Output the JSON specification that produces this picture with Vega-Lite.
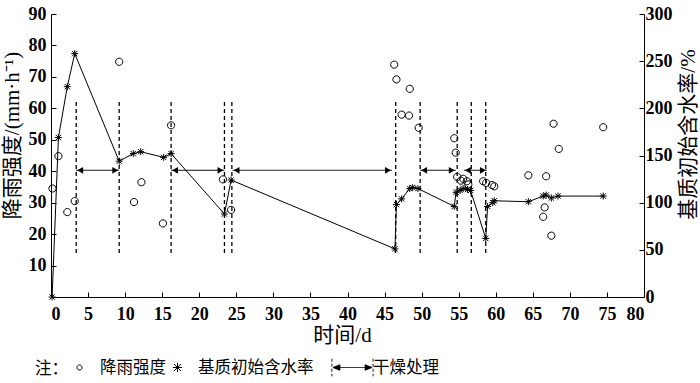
{
  "$schema": "https://vega.github.io/schema/vega-lite/v6.json",
  "width": 593,
  "height": 283,
  "autosize": {"type": "none"},
  "padding": {"left": 51, "top": 14, "right": 56, "bottom": 86},
  "background": "white",
  "config": {
    "view": {"stroke": null},
    "axis": {
      "grid": false,
      "domainColor": "black",
      "tickColor": "black",
      "labelColor": "black",
      "titleColor": "black",
      "domainWidth": 1,
      "tickWidth": 1,
      "tickSize": -5,
      "tickCount": 40,
      "labelOverlap": false,
      "labelFont": "Liberation Serif",
      "labelFontSize": 18,
      "labelFontWeight": "bold",
      "titleFont": "Liberation Serif, Noto Sans CJK SC",
      "titleFontSize": 21,
      "titleFontWeight": "normal"
    },
    "legend": {
      "orient": "none",
      "direction": "horizontal",
      "gridAlign": "none",
      "columnPadding": -10,
      "symbolSize": 1764,
      "symbolStrokeWidth": 1,
      "labelOffset": -1,
      "labelFont": "Noto Sans CJK SC",
      "labelFontSize": 16.5,
      "labelColor": "black",
      "labelLimit": 300,
      "titleFont": "Noto Sans CJK SC",
      "titleFontSize": 16.5,
      "titleFontWeight": "normal",
      "titleColor": "black",
      "titleOrient": "left",
      "titleAnchor": "middle",
      "titleBaseline": "top",
      "titlePadding": -10
    }
  },
  "datasets": {
    "rain": [
      {"day": 0.2, "rain": 34.5}, {"day": 1.0, "rain": 44.8}, {"day": 2.2, "rain": 27.0}, {"day": 3.2, "rain": 30.5},
      {"day": 9.2, "rain": 74.8}, {"day": 11.2, "rain": 30.2}, {"day": 12.2, "rain": 36.5}, {"day": 15.1, "rain": 23.4},
      {"day": 16.2, "rain": 54.6}, {"day": 23.2, "rain": 37.4}, {"day": 24.3, "rain": 27.7}, {"day": 46.3, "rain": 73.9},
      {"day": 46.6, "rain": 69.2}, {"day": 47.3, "rain": 58.0}, {"day": 48.3, "rain": 57.7}, {"day": 48.4, "rain": 66.2},
      {"day": 49.6, "rain": 53.8}, {"day": 54.4, "rain": 50.5}, {"day": 54.6, "rain": 45.9}, {"day": 54.8, "rain": 38.2},
      {"day": 55.3, "rain": 37.0}, {"day": 55.6, "rain": 37.6}, {"day": 56.1, "rain": 36.8}, {"day": 56.3, "rain": 35.8},
      {"day": 58.3, "rain": 36.8}, {"day": 58.7, "rain": 36.3}, {"day": 59.5, "rain": 35.6}, {"day": 59.8, "rain": 35.2},
      {"day": 64.4, "rain": 38.7}, {"day": 66.4, "rain": 25.5}, {"day": 66.6, "rain": 28.5}, {"day": 66.8, "rain": 38.4},
      {"day": 67.5, "rain": 19.5}, {"day": 67.8, "rain": 55.1}, {"day": 68.5, "rain": 47.1}, {"day": 74.5, "rain": 54.0}
    ],
    "moisture": [
      {"day": 0.15, "w": 0}, {"day": 1.0, "w": 169}, {"day": 2.2, "w": 223}, {"day": 3.2, "w": 258},
      {"day": 9.2, "w": 144}, {"day": 11.1, "w": 152}, {"day": 12.1, "w": 154}, {"day": 15.2, "w": 148},
      {"day": 16.2, "w": 152}, {"day": 23.4, "w": 88}, {"day": 24.3, "w": 124}, {"day": 46.4, "w": 51},
      {"day": 46.6, "w": 98}, {"day": 47.3, "w": 104}, {"day": 48.4, "w": 115}, {"day": 48.8, "w": 116},
      {"day": 49.5, "w": 115}, {"day": 54.4, "w": 96}, {"day": 54.65, "w": 111}, {"day": 55.2, "w": 113},
      {"day": 55.6, "w": 115}, {"day": 56.2, "w": 114}, {"day": 56.6, "w": 113}, {"day": 58.65, "w": 62},
      {"day": 58.9, "w": 96}, {"day": 59.6, "w": 100}, {"day": 59.8, "w": 102}, {"day": 64.4, "w": 101},
      {"day": 66.4, "w": 107}, {"day": 66.8, "w": 108}, {"day": 67.5, "w": 105}, {"day": 68.4, "w": 107},
      {"day": 74.5, "w": 107}
    ],
    "drylines": [
      {"day": 3.4}, {"day": 9.2}, {"day": 16.2}, {"day": 23.4}, {"day": 24.4},
      {"day": 46.5}, {"day": 49.8}, {"day": 54.8}, {"day": 56.7}, {"day": 58.65}
    ],
    "arrows": [
      {"start": 3.4, "end": 9.2}, {"start": 16.2, "end": 23.4}, {"start": 24.5, "end": 46.0},
      {"start": 49.8, "end": 54.6}, {"start": 55.7, "end": 58.8}
    ]
  },
  "layer": [
    {
      "layer": [
        {
          "data": {"name": "rain"},
          "mark": {"type": "point", "filled": false, "color": "black", "strokeWidth": 1, "opacity": 1, "size": 3600},
          "encoding": {
            "x": {
              "field": "day", "type": "quantitative",
              "scale": {"domain": [0, 80], "nice": false, "zero": false},
              "axis": {
                "title": "时间/d",
                "values": [0, 5, 10, 15, 20, 25, 30, 35, 40, 45, 50, 55, 60, 65, 70, 75, 80],
                "tickCount": 40,
                "labelOverlap": false,
                "labelPadding": 13,
                "titleX": 291, "titleY": 38, "titleAlign": "center", "titleBaseline": "middle", "titleFontSize": 21
              }
            },
            "y": {
              "field": "rain", "type": "quantitative",
              "scale": {"domain": [0, 90], "nice": false},
              "axis": {
                "title": "降雨强度/(mm·h⁻¹)",
                "orient": "left",
                "values": [0, 10, 20, 30, 40, 50, 60, 70, 80, 90],
                "tickCount": 40,
                "labelOverlap": false,
                "labelExpr": "datum.value == 0 ? '' : datum.label",
                "labelPadding": 10,
                "titleX": -39, "titleY": 121, "titleAngle": 270, "titleAlign": "center", "titleBaseline": "middle"
              }
            },
            "shape": {
              "datum": "降雨强度",
              "title": "注：",
              "legend": {"legendX": -16, "legendY": 332, "columns": 2},
              "scale": {
                "domain": ["降雨强度", "基质初始含水率"],
                "range": [
                  "M0.12,0A0.12,0.12,0,1,1,-0.12,0A0.12,0.12,0,1,1,0.12,0Z",
                  "M-0.17,-0.17L0.17,0.17M-0.17,0.17L0.17,-0.17M0,-0.22V0.22M-0.22,0H0.22"
                ]
              }
            }
          }
        },
        {
          "data": {"name": "drylines"},
          "mark": {"type": "rule", "color": "black", "strokeWidth": 1.3, "strokeDash": [4, 3]},
          "encoding": {
            "x": {"field": "day", "type": "quantitative"},
            "y": {"datum": 14, "type": "quantitative"},
            "y2": {"datum": 63}
          }
        },
        {
          "data": {"name": "arrows"},
          "mark": {"type": "rule", "color": "black", "strokeWidth": 1},
          "encoding": {
            "x": {"field": "start", "type": "quantitative"},
            "x2": {"field": "end"},
            "y": {"datum": 40.3, "type": "quantitative"},
            "strokeDash": {
              "datum": "干燥处理",
              "type": "nominal",
              "scale": {"domain": ["干燥处理"], "range": [[1, 0]]},
              "legend": {
                "title": null,
                "legendX": 280,
                "legendY": 332,
                "symbolType": "M-0.98,-0.42V-0.28M-0.98,-0.18V-0.04M-0.98,0.06V0.2M-0.98,0.3V0.42M0.98,-0.42V-0.28M0.98,-0.18V-0.04M0.98,0.06V0.2M0.98,0.3V0.42M-0.9,0H0.9M-0.93,0L-0.6,-0.13L-0.6,0.13ZM0.93,0L0.6,-0.13L0.6,0.13Z",
                "symbolFillColor": "black",
                "symbolStrokeColor": "black",
                "symbolStrokeWidth": 1,
                "symbolSize": 1764
              }
            }
          }
        },
        {
          "data": {"name": "arrows"},
          "mark": {"type": "point", "shape": "triangle-left", "filled": true, "color": "black", "opacity": 1, "size": 45, "xOffset": 4},
          "encoding": {
            "x": {"field": "start", "type": "quantitative"},
            "y": {"datum": 40.3, "type": "quantitative"}
          }
        },
        {
          "data": {"name": "arrows"},
          "mark": {"type": "point", "shape": "triangle-right", "filled": true, "color": "black", "opacity": 1, "size": 45, "xOffset": -4},
          "encoding": {
            "x": {"field": "end", "type": "quantitative"},
            "y": {"datum": 40.3, "type": "quantitative"}
          }
        }
      ]
    },
    {
      "layer": [
        {
          "data": {"name": "moisture"},
          "mark": {"type": "point", "filled": false, "color": "black", "strokeWidth": 1, "opacity": 1, "size": 1000},
          "encoding": {
            "x": {"field": "day", "type": "quantitative"},
            "y": {
              "field": "w", "type": "quantitative",
              "scale": {"domain": [0, 300], "nice": false},
              "axis": {
                "title": "基质初始含水率/%",
                "orient": "right",
                "values": [0, 50, 100, 150, 200, 250, 300],
                "tickCount": 40,
                "labelOverlap": false,
                "labelPadding": 6,
                "titleX": 44, "titleY": 120, "titleAngle": 270, "titleAlign": "center", "titleBaseline": "middle"
              }
            },
            "shape": {
              "datum": "基质初始含水率",
              "title": "注：",
              "legend": {"legendX": -16, "legendY": 332, "columns": 2},
              "scale": {
                "domain": ["降雨强度", "基质初始含水率"],
                "range": [
                  "M0.12,0A0.12,0.12,0,1,1,-0.12,0A0.12,0.12,0,1,1,0.12,0Z",
                  "M-0.17,-0.17L0.17,0.17M-0.17,0.17L0.17,-0.17M0,-0.22V0.22M-0.22,0H0.22"
                ]
              }
            }
          }
        },
        {
          "data": {"name": "moisture"},
          "mark": {"type": "line", "color": "black", "strokeWidth": 1},
          "encoding": {
            "x": {"field": "day", "type": "quantitative"},
            "y": {"field": "w", "type": "quantitative"}
          }
        }
      ]
    }
  ],
  "resolve": {"scale": {"y": "independent"}}
}
